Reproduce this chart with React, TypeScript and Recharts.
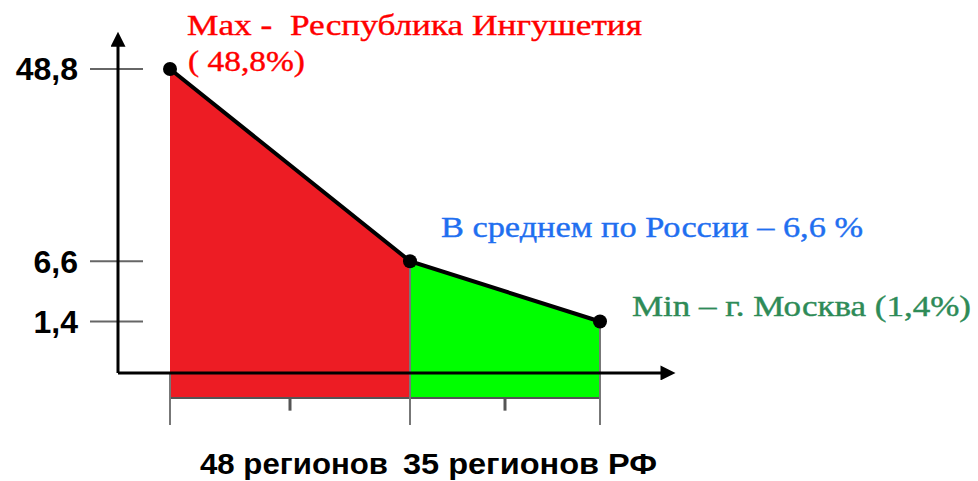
import React from 'react'
import {
    ComposedChart,
    Area,
    Line,
    XAxis,
    YAxis,
    ReferenceLine
} from 'recharts'

// cumulative position of the regions along the x axis (as drawn)
const regionPos = [0, 48, 86]
// share, %
const shares = [48.8, 6.6, 1.4]
const yTicks = [1.4, 6.6, 48.8]
const braceMid = [24, 67]
const groupLabels = ['48 регионов', '35 регионов РФ']

const data = regionPos.map((x, i) => ({
    x,
    share: shares[i],
    red: i < 2 ? shares[i] : null,
    green: i > 0 ? shares[i] : null
}))

const X_MIN = -10.4
const X_MAX = 102
const Y_MIN = -1.43
const Y_MAX = 65.8
const FILL_BOTTOM = -0.33
const BRACE_TIP = -0.75

const serif = '"Liberation Serif", "Times New Roman", serif'
const sans = '"Liberation Sans", Arial, sans-serif'

export default function App() {
    return (
        <div style={{ position: 'absolute', left: 0, top: 0, width: 978, height: 481, background: '#fff' }}>
            <ComposedChart
                width={978}
                height={481}
                data={data}
                margin={{ top: 20, right: 298, bottom: 56, left: 0 }}
            >
                <defs>
                    <marker
                        id='arrow'
                        viewBox='0 0 10 10'
                        refX={3}
                        refY={5}
                        markerWidth={6}
                        markerHeight={5}
                        orient='auto'
                    >
                        <path d='M0,0 L10,5 L0,10 z' fill='#000' />
                    </marker>
                </defs>

                <XAxis
                    type='number'
                    dataKey='x'
                    domain={[X_MIN, X_MAX]}
                    allowDataOverflow
                    hide
                />
                <YAxis
                    type='number'
                    scale='sqrt'
                    domain={[Y_MIN, Y_MAX]}
                    allowDataOverflow
                    ticks={yTicks}
                    width={118}
                    axisLine={false}
                    tickLine={false}
                    tickSize={30}
                    tickMargin={10}
                    tick={{ fontSize: 32, fontWeight: 'bold', fill: '#000', fontFamily: sans }}
                    tickFormatter={v => String(v).replace('.', ',')}
                />

                <Area
                    dataKey='red'
                    type='linear'
                    baseValue={FILL_BOTTOM}
                    fill='#ed1c24'
                    fillOpacity={1}
                    stroke='none'
                    isAnimationActive={false}
                />
                <Area
                    dataKey='green'
                    type='linear'
                    baseValue={FILL_BOTTOM}
                    fill='#00ff00'
                    fillOpacity={1}
                    stroke='none'
                    isAnimationActive={false}
                />

                {/* brace outline under the axis */}
                <ReferenceLine
                    segment={[{ x: regionPos[0], y: FILL_BOTTOM }, { x: regionPos[2], y: FILL_BOTTOM }]}
                    stroke='#555'
                    strokeWidth={2}
                />
                {regionPos.map((x, i) => (
                    <ReferenceLine
                        key={'v' + i}
                        segment={[{ x, y: i === 0 ? 0 : shares[i] }, { x, y: Y_MIN }]}
                        stroke='#777'
                        strokeWidth={2}
                    />
                ))}
                {braceMid.map((x, i) => (
                    <ReferenceLine
                        key={'b' + i}
                        segment={[{ x, y: FILL_BOTTOM }, { x, y: BRACE_TIP }]}
                        stroke='#555'
                        strokeWidth={3}
                    />
                ))}

                {/* tick marks crossing the y axis */}
                {yTicks.map(v => (
                    <ReferenceLine
                        key={'t' + v}
                        segment={[{ x: -16, y: v }, { x: -5.4, y: v }]}
                        stroke='#666'
                        strokeWidth={2}
                        ifOverflow='visible'
                    />
                ))}

                {/* axes with arrows */}
                <ReferenceLine
                    segment={[{ x: X_MIN, y: 0 }, { x: X_MAX - 3, y: 0 }]}
                    stroke='#000'
                    strokeWidth={3}
                    markerEnd='url(#arrow)'
                    ifOverflow='visible'
                />
                <ReferenceLine
                    segment={[{ x: X_MIN, y: 0 }, { x: X_MIN, y: Y_MAX - 8 }]}
                    stroke='#000'
                    strokeWidth={3}
                    markerEnd='url(#arrow)'
                    ifOverflow='visible'
                />

                <Line
                    dataKey='share'
                    type='linear'
                    stroke='#000'
                    strokeWidth={4}
                    dot={{ r: 7, fill: '#000', stroke: '#000', strokeWidth: 0 }}
                    isAnimationActive={false}
                />

                <text x={187} y={35} fill='#ff0000' stroke='#ff0000' strokeWidth={0.4}
                    fontFamily={serif} fontSize={30}
                    textLength={455} lengthAdjust='spacingAndGlyphs'>
                    {'Max -\u00a0 Республика Ингушетия'}
                </text>
                <text x={188} y={71} fill='#ff0000' stroke='#ff0000' strokeWidth={0.4}
                    fontFamily={serif} fontSize={30}
                    textLength={117} lengthAdjust='spacingAndGlyphs'>
                    ( 48,8%)
                </text>
                <text x={441} y={237} fill='#1f6ff0' stroke='#1f6ff0' strokeWidth={0.4}
                    fontFamily={serif} fontSize={29}
                    textLength={422} lengthAdjust='spacingAndGlyphs'>
                    В среднем по России – 6,6 %
                </text>
                <text x={632} y={316} fill='#2e8b57' stroke='#2e8b57' strokeWidth={0.4}
                    fontFamily={serif} fontSize={29}
                    textLength={339} lengthAdjust='spacingAndGlyphs'>
                    Min – г. Москва (1,4%)
                </text>
                <text x={200} y={474} fill='#000' fontFamily={sans} fontSize={30} fontWeight='bold'
                    textLength={188} lengthAdjust='spacingAndGlyphs'>
                    {groupLabels[0]}
                </text>
                <text x={403} y={474} fill='#000' fontFamily={sans} fontSize={30} fontWeight='bold'
                    textLength={254} lengthAdjust='spacingAndGlyphs'>
                    {groupLabels[1]}
                </text>
            </ComposedChart>
        </div>
    )
}
